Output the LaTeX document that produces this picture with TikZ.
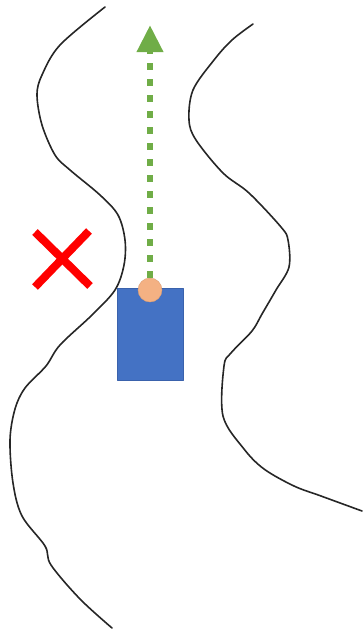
\documentclass[tikz,border=0pt]{standalone}
\usepackage{tikz}
\usetikzlibrary{arrows.meta}

\definecolor{carblue}{HTML}{4472C4}
\definecolor{carborder}{HTML}{3A62AC}
\definecolor{sensorfill}{HTML}{F4B183}
\definecolor{pathgreen}{HTML}{70AD47}

\begin{document}
\begin{tikzpicture}[x=1pt,y=-1pt,
  line join=round,
  wall/.style={line width=1.6pt,black!85,line cap=round},
  car/.style={draw=carborder,line width=0.6pt,fill=carblue,
    minimum width=66pt,minimum height=92pt,inner sep=0pt},
  sensor/.style={circle,fill=sensorfill,draw=sensorfill!90!black,
    line width=0.4pt,minimum size=24pt,inner sep=0pt},
  route/.style={pathgreen,line width=6.5pt,dash pattern=on 6.5pt off 9.5pt,
    -{Triangle[length=27pt,width=25pt]}},
  ng/.style={red,line width=8pt}]

  % 描画範囲
  \useasboundingbox (0,0) rectangle (362,632);

  % 左側の壁
  \draw[wall] plot[smooth,tension=0.55] coordinates {
    (105,7) (60,45) (42,75) (37,95) (42,125) (55,155) (70,170)
    (100,195) (118,215) (125,240) (124,265) (115,290) (92,315)
    (60,345) (46,366) (25,388) (15,409) (10,440) (13,483)
    (22,516) (45,546) (51,565) (80,599) (112,628)};

  % 右側の壁
  \draw[wall] plot[smooth,tension=0.55] coordinates {
    (253,24) (232,40) (214,60) (193,90) (189,120) (196,140)
    (223,173) (249,193) (281,227) (288,240) (289,267) (276,290)
    (262,314) (252,331) (231,353) (224,366) (223,416) (244,449)
    (264,469) (294,486) (321,496) (362,511)};

  % 車体とセンサ
  \node[car] (car) at (150,334) {};
  \node[sensor] (sensor) at (150,290) {};

  % 進行方向
  \coordinate (tip) at (150,25);
  \draw[route] (sensor.north) -- (tip);

  % バツ印
  \coordinate (X1) at (35,232);
  \coordinate (X2) at (90,286);
  \coordinate (X3) at (89,231);
  \coordinate (X4) at (35,287);
  \draw[ng] (X1) -- (X2);
  \draw[ng] (X3) -- (X4);

\end{tikzpicture}
\end{document}
